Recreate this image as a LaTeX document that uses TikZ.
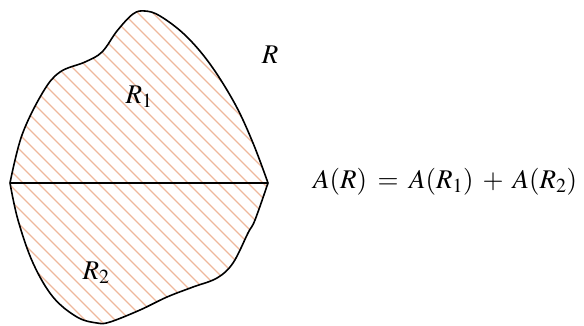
\documentclass[tikz,border=0pt]{standalone}
\usepackage{mathptmx}
\usepackage{tikz}
\usetikzlibrary{positioning,calc}
\definecolor{hatchcolor}{RGB}{238,184,156}
\tikzset{
  outline/.style={draw=black,line width=1.6pt,line join=round},
  chord/.style={draw=black,line width=1.5pt},
  hatchline/.style={draw=hatchcolor,line width=1.2pt},
  regionlabel/.style={inner sep=0pt,font=\fontsize{27}{32}\selectfont},
}
\thickmuskip=7mu plus 2mu
\medmuskip=6mu plus 2mu

\begin{document}
\begin{tikzpicture}[x=1pt,y=-1pt]
    \useasboundingbox (0,0) rectangle (584,325);
    \coordinate (west) at (10,183);
    \coordinate (east) at (268,183);
    % boundary of R, upper arc then lower arc
    \path[save path=\regionpath]
      plot[smooth,tension=0.6] coordinates {(10,183) (22,135) (43,92) (60,72) (85,62) (102,52) (117,31) (133,14) (145,11) (160,16) (185,35) (210,64) (235,104) (253,143) (268,183)}
      -- plot[smooth,tension=0.6] coordinates {(268,183) (255,220) (248,233) (233,263) (217,278) (193,287) (167,297) (140,310) (110,322) (97,323) (77,317) (53,297) (33,263) (18,220) (10,183)}
      -- cycle;
    % hatching inside the region
    \begin{scope}
      \clip[use path=\regionpath];
      \foreach \i in {-400,-385,...,300}
        \draw[hatchline] (\i,0) -- ++(340,340);
    \end{scope}
    \draw[outline,use path=\regionpath];
    \draw[chord] (west) -- (east);
    \node[regionlabel] (r) at (270,55) {$R$};
    \node[regionlabel] (r1) at (139,97) {$R_1$};
    \node[regionlabel] (r2) at (96,273) {$R_2$};
    \node[regionlabel,anchor=west] (area) at (313,182) {$A(R) = A(R_1) + A(R_2)$};
  \end{tikzpicture}
\end{document}
